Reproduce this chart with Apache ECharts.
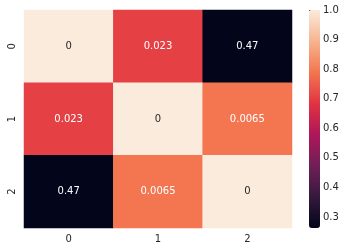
<!DOCTYPE html>
<html>
<head>
<meta charset="utf-8">
<script src="https://cdn.jsdelivr.net/npm/echarts@6/dist/echarts.min.js"></script>
<style>html,body{margin:0;padding:0;background:#fff}#c{width:349px;height:252px}</style>
</head>
<body>
<div id="c"></div>
<script>
var categories = ['0', '1', '2'];
var colorValues = [
  [1.0, 0.706, 0.263],
  [0.706, 1.0, 0.79],
  [0.263, 0.79, 1.0]
];
var annotations = [
  ['0', '0.023', '0.47'],
  ['0.023', '0', '0.0065'],
  ['0.47', '0.0065', '0']
];
var colorMin = 0.263;
var colorMax = 1.0;
var colorbarTicks = [0.3, 0.4, 0.5, 0.6, 0.7, 0.8, 0.9, 1.0];
var rocket = ['#03051a', '#35193e', '#701f57', '#ad1759', '#e13342', '#f37651', '#f6b48f', '#faebdd'];

var data = [];
for (var r = 0; r < categories.length; r++) {
  for (var c = 0; c < categories.length; c++) {
    data.push({value: [c, r, colorValues[r][c]], ann: annotations[r][c]});
  }
}
var font = 'DejaVu Sans';
var txt = '#262626';
var chart = echarts.init(document.getElementById('c'));
chart.setOption({
  animation: false,
  grid: [
    {left: 24, right: 57, top: 10, bottom: 24},
    {left: 309, top: 10, width: 11, height: 218}
  ],
  xAxis: [
    {type: 'category', data: categories, gridIndex: 0,
     axisLine: {show: false}, splitLine: {show: false}, splitArea: {show: false},
     axisTick: {alignWithLabel: true, length: 3.5, lineStyle: {color: txt, width: 0.8}},
     axisLabel: {fontFamily: font, fontSize: 10, color: txt, margin: 6}},
    {type: 'value', gridIndex: 1, show: false, min: 0, max: 1}
  ],
  yAxis: [
    {type: 'category', data: categories, inverse: true, gridIndex: 0,
     axisLine: {show: false}, splitLine: {show: false}, splitArea: {show: false},
     axisTick: {alignWithLabel: true, length: 3.5, lineStyle: {color: txt, width: 0.8}},
     axisLabel: {fontFamily: font, fontSize: 10, color: txt, rotate: 90, margin: 7}},
    {type: 'value', gridIndex: 1, position: 'right', min: colorMin, max: colorMax,
     axisLine: {show: false}, splitLine: {show: false},
     axisTick: {show: true, length: 3.5, customValues: colorbarTicks, lineStyle: {color: txt, width: 0.8}},
     axisLabel: {fontFamily: font, fontSize: 10, color: txt, margin: 3, customValues: colorbarTicks,
       formatter: function (v) { return v.toFixed(1); }}}
  ],
  visualMap: {
    type: 'continuous', min: colorMin, max: colorMax, calculable: false,
    seriesIndex: 0, orient: 'vertical', left: 309, top: 10, padding: 0,
    itemWidth: 11, itemHeight: 218, text: null, showLabel: false,
    inRange: {color: rocket}
  },
  series: [
    {type: 'heatmap', xAxisIndex: 0, yAxisIndex: 0, data: data,
     label: {show: true, fontFamily: font, fontSize: 10,
       formatter: function (p) { return p.data.ann; },
       color: '#ffffff'},
     emphasis: {disabled: true}},
    {type: 'scatter', xAxisIndex: 1, yAxisIndex: 1, data: [], silent: true}
  ]
});
// dark annotation text on light cells
var opt = chart.getOption();
var newData = data.map(function (d) {
  var light = d.value[2] > 0.9;
  return {value: d.value, ann: d.ann, label: {color: light ? txt : '#ffffff'}};
});
chart.setOption({series: [{data: newData}]});
</script>
</body>
</html>
